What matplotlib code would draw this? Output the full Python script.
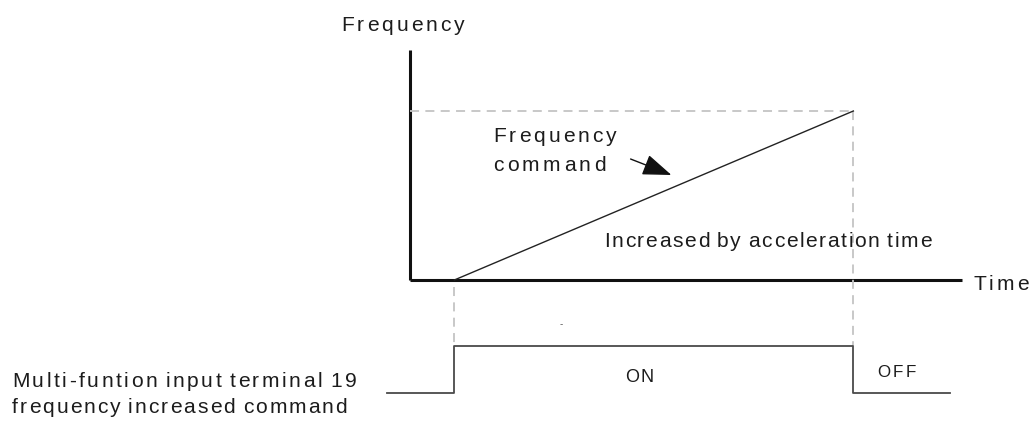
import matplotlib
matplotlib.use("Agg")
import matplotlib.pyplot as plt
import matplotlib.transforms as mtransforms
from matplotlib.font_manager import FontProperties, findfont, get_font
from matplotlib.ft2font import LoadFlags
from matplotlib.patches import FancyArrowPatch

# ---------------- data ----------------
t_on = 0.5            # terminal 19 switched ON (time units)
t_off = 5.0           # terminal 19 switched OFF
f_start = 0.0         # frequency at t_on
f_end = 60.0          # frequency reached at t_off
ramp_time = [t_on, t_off]
ramp_freq = [f_start, f_end]
signal_time = [-0.26, t_on, t_on, t_off, t_off, 6.09]
signal_level = [0, 0, 1, 1, 0, 0]
axis_time_end = 6.225
axis_freq_end = 81.66

label_freq = "Frequency"
label_time = "Time"
label_cmd = ["Frequency", "command"]
label_incr = "Increased by acceleration time"
label_on = "ON"
label_off = "OFF"
label_terminal = ["Multi-funtion input terminal 19", "frequency increased command"]

# ---------------- figure ----------------
W, H = 1035, 421
fig = plt.figure(figsize=(W / 100, H / 100), dpi=100)
fig.patch.set_facecolor("white")

px_per_t = 88.67
x0_px = 410.0
xlim = (-x0_px / px_per_t, (W - x0_px) / px_per_t)

ax = fig.add_axes([0, 0, 1, 1])
f_scale = 169.0 / 60.0
ax.set_xlim(*xlim)
ax.set_ylim((280 - H) / f_scale, 280 / f_scale)
ax.axis("off")

ax2 = fig.add_axes([0, 0, 1, 1], sharex=ax)
s_scale = 47.0
ax2.set_ylim((393 - H) / s_scale, 393 / s_scale)
ax2.axis("off")
ax2.patch.set_alpha(0)

# pixel transform (x right, y down from top)
pix = mtransforms.Affine2D().scale(1 / W, -1 / H).translate(0, 1) + fig.transFigure
blend = mtransforms.blended_transform_factory(ax.transData, pix)

FAM = "Liberation Sans"
TXT = "#1c1c1c"


def spaced_text(x, y, s, size_px, spacing, color=TXT):
    size_pt = size_px * 72 / 100
    fp = FontProperties(family=FAM, size=size_pt)
    font = get_font(findfont(fp))
    font.set_size(size_pt, 100)
    cx = x
    for ch in s:
        g = font.load_char(ord(ch), flags=LoadFlags.NO_HINTING)
        adv = g.linearHoriAdvance / 65536.0
        if ch != " ":
            fig.text(cx, y, ch, transform=pix, fontproperties=fp, color=color,
                     ha="left", va="baseline")
            cx += adv + spacing
        else:
            cx += adv


# axes lines
ax.plot([0, 0], [0, axis_freq_end], color="#111111", lw=2.2, solid_capstyle="butt")
ax.plot([0, axis_time_end], [0, 0], color="#111111", lw=2.2, solid_capstyle="butt")

# guide dashed lines
dash_kw = dict(color="#c4c4c4", lw=1.3, dashes=(5, 3.5))
ax.plot([0, t_off], [f_end, f_end], **dash_kw)
ax.plot([t_on, t_on], [287, 346], transform=blend, **dash_kw)
ax.plot([t_off, t_off], [111, 346], transform=blend, **dash_kw)

# ramp
ax.plot(ramp_time, ramp_freq, color="#222222", lw=1.0)

# signal
ax2.plot(signal_time, signal_level, color="#4a4a4a", lw=1.3)

# arrow
arr = FancyArrowPatch((628, 158), (674, 176), transform=pix,
                      arrowstyle="-|>,head_length=1.5,head_width=0.55",
                      mutation_scale=12, color="#111111", lw=1.0)
fig.patches.append(arr)

# texts
spaced_text(341, 31, label_freq, 21, 3.0)
spaced_text(973, 290, label_time, 21, 3.1)
spaced_text(493, 142, label_cmd[0], 21, 3.0)
spaced_text(493, 171, label_cmd[1], 21, 3.4)
spaced_text(604, 247, label_incr, 21, 1.65)
spaced_text(625, 382, label_on, 18, 1.0)
spaced_text(877, 377, label_off, 17, 2.5)
spaced_text(12, 387, label_terminal[0], 21, 2.55)
spaced_text(12, 413, label_terminal[1], 21, 2.0)
fig.text(560, 327, "-", transform=pix, fontsize=7, color="#555555", family=FAM,
         ha="left", va="baseline")

fig.savefig("out.png", dpi=100, facecolor="white")
